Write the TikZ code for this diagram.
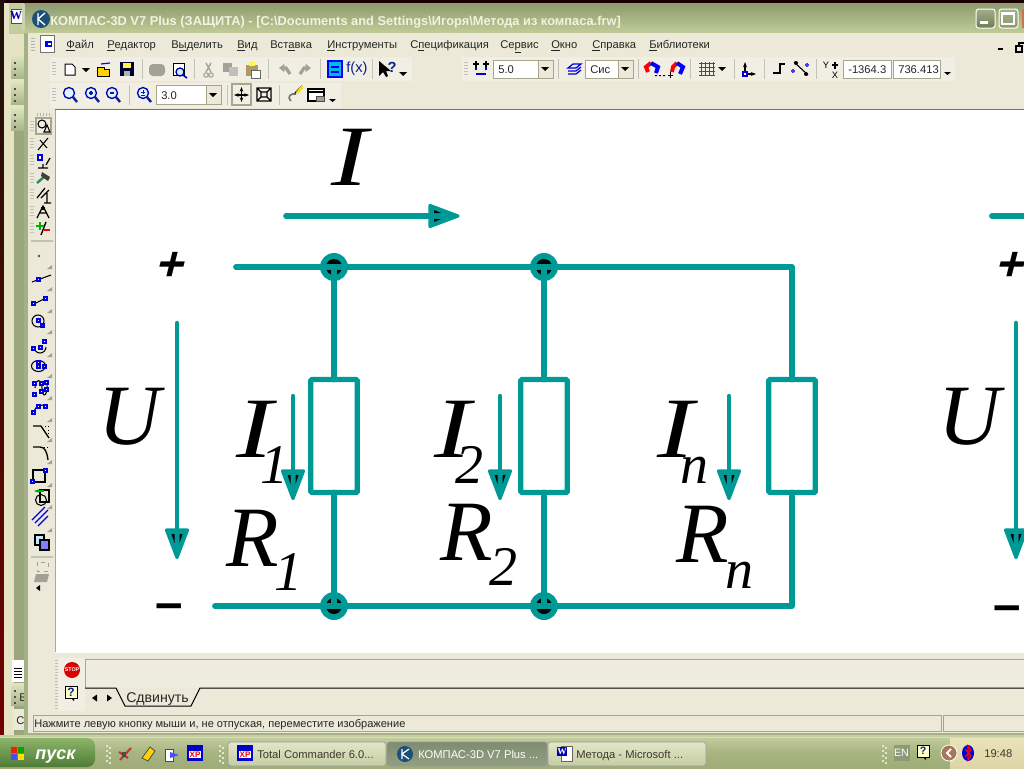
\documentclass[tikz,border=0pt]{standalone}
\usepackage{fontspec}
\usetikzlibrary{arrows.meta}
\setmainfont{Liberation Sans}
\newfontfamily\uifont{Liberation Sans}
\newfontfamily\serfont{Liberation Serif}
\newfontfamily\widefont[FakeStretch=1.28]{Liberation Serif}
\newfontfamily\signfont[FakeSlant=0.25]{Liberation Sans}
\newcommand\psz[1]{\fontsize{#1}{#1}\selectfont}
\newcommand\hexc[1]{\definecolor{#1}{HTML}{#1}}
\hexc{E6E4C4}\hexc{9CA67E}\hexc{C3CDA2}\hexc{E0E6C0}\hexc{A9B68A}\hexc{8C9A6E}\hexc{BFCB96}\hexc{8F9C74}\hexc{CCD3AE}\hexc{1C4F7A}\hexc{F2F2E0}\hexc{A4AF88}\hexc{6E7C55}\hexc{D2724A}\hexc{B09A60}\hexc{00B8E8}\hexc{2E8B57}\hexc{EFECE0}\hexc{FFFFC8}\hexc{C7D0A3}\hexc{9EAC78}\hexc{A8B582}\hexc{D7DDBA}\hexc{8DB46A}\hexc{4E7B35}\hexc{E4E8CC}\hexc{CC3322}\hexc{E1E6C6}\hexc{C5CDA4}\hexc{7E8C70}\hexc{929F83}\hexc{8C9A78}\hexc{EBE3B8}\hexc{DDD5A8}\hexc{A8775A}
\definecolor{panel}{HTML}{ECE9D8}
\definecolor{band}{HTML}{F1EFE4}
\definecolor{teal1}{HTML}{009A96}
\definecolor{frameol}{HTML}{A4B184}
\definecolor{seplin}{HTML}{C4C2B4}
\definecolor{boxlin}{HTML}{A5A78C}
\definecolor{nav}{HTML}{0A1E90}
\definecolor{gry}{HTML}{A3A196}
\tikzset{x=0.75pt,y=-0.75pt,
 wire/.style={draw=teal1,line width=4.3pt,line cap=round,line join=round},
 resistor/.style={draw=teal1,line width=4pt,fill=white,rounded corners=1pt,minimum width=34.9pt,minimum height=84.8pt,inner sep=0pt,outer sep=0pt},
 junction/.style={circle,fill=teal1,minimum size=21pt,inner sep=0pt},
 current/.style={draw=teal1,line width=3.3pt,line cap=round},
 mainarrow/.style={draw=teal1,line width=4.2pt,line cap=round},
 headtip/.style={fill=teal1,draw=teal1,line width=2.4pt,line join=round},
 bigl/.style={font=\serfont\itshape\psz{64.5},anchor=base west,inner sep=0pt,text=black},
 bigi/.style={font=\widefont\itshape\psz{64.5},anchor=base west,inner sep=0pt,text=black},
 subl/.style={font=\serfont\itshape\psz{42},anchor=base west,inner sep=0pt,text=black},
 menu/.style={font=\uifont\psz{8.4},anchor=base west,inner sep=0pt,text=black!85},
 sepv/.style={draw=seplin,line width=0.75pt},
 fieldbox/.style={draw=boxlin,fill=white,line width=0.75pt},
 dropbtn/.style={draw=boxlin,fill=panel,line width=0.75pt},
 taskbtn/.style={draw=black!40,line width=0.5pt,rounded corners=2pt},
 tasktxt/.style={font=\uifont\psz{8.4},anchor=base west,inner sep=0pt,text=black!75!olive},
 ic/.style={line width=0.75pt,draw=black},
 blu/.style={line width=0.9pt,draw=blue!85!black}
}
\newcommand\dnarrow[2]{\fill[black] (#1-4,#2) -- (#1+4,#2) -- (#1,#2+4) -- cycle;}
\begin{document}
\begin{tikzpicture}
\useasboundingbox (0,0) rectangle (1024,768);
\clip (0,0) rectangle (1024,768);
% desktop and back window
\fill[black!90!red] (0,0) rectangle (1024,768);
\shade[top color=black!85!brown,bottom color=red!45!black] (0,0) rectangle (5,740);
\fill[E6E4C4] (4,3) rectangle (24,738);
\fill[9CA67E] (14,110) rectangle (24,738);
\fill[C3CDA2] (9,3) rectangle (24,34);
\shade[top color=E0E6C0,bottom color=A9B68A] (11,55) rectangle (24,78);
\shade[top color=E0E6C0,bottom color=A9B68A] (11,81) rectangle (24,104);
\shade[top color=E0E6C0,bottom color=A9B68A] (11,107) rectangle (24,130);
\fill[white] (12,660) rectangle (24,682);
\foreach \yy in {668,671,674,677}{\draw[black,line width=0.6pt] (14,\yy) -- (22,\yy);}
\shade[top color=E0E6C0,bottom color=A9B68A] (11,683) rectangle (24,705);
\fill[panel] (13,709) rectangle (24,730);
\node[menu] (backb) at (19,701) {В};
\node[menu] (backc) at (16,724) {С};
\foreach \yy in {62,68,74,88,94,100,114,120,126,690,696,702}{\fill[black!70] (14,\yy) rectangle (16,\yy+2);}
% word icon on back window
\draw[fill=white,draw=black!70,line width=.5pt] (11,9) rectangle (24,23);
\node[font=\serfont\bfseries\psz{9},text=blue!70!black,inner sep=0pt] (backw) at (16,16) {W};
% main window
\fill[frameol] (24,3) rectangle (1024,735);
\fill[panel] (28,33) rectangle (1024,733);
\shade[top color=8C9A6E,bottom color=BFCB96] (24,3) rectangle (1024,32);
\fill[8F9C74] (24,3) rectangle (1024,5);
\fill[CCD3AE] (22,4) rectangle (25,30);
% title
\fill[1C4F7A] (41,19) circle (9);
\draw[white,line width=1pt] (38,13) -- (38,25) (45,13) -- (38,19) -- (45,25);
\node[font=\uifont\bfseries\psz{9.63},anchor=base west,inner sep=0pt,text=F2F2E0] (title) at (50,25) {КОМПАС-3D V7 Plus (ЗАЩИТА) - [C:\textbackslash Documents and Settings\textbackslash Игоря\textbackslash Метода из компаса.frw]};
% title buttons
\shade[top color=A4AF88,bottom color=6E7C55,draw=white,line width=.75pt,rounded corners=2pt] (976,9) rectangle (995,28);
\fill[white] (980,21) rectangle (988,24);
\shade[top color=A4AF88,bottom color=8C9A6E,draw=white,line width=.75pt,rounded corners=2pt] (999,9) rectangle (1018,28);
\draw[white,line width=1pt] (1002,13) rectangle (1014,24);
\fill[white] (1002,13) rectangle (1014,15);
\fill[D2724A] (1022,9) rectangle (1024,28);
% menu
\draw[black!55,line width=.6pt,fill=white] (40,35) rectangle (54,52);
\fill[blue] (45,41) rectangle (52,47);
\fill[white] (48,43) rectangle (51,45);
\foreach \yy in {38,41,44,47,50}{\fill[black!30] (31,\yy) rectangle (35,\yy+1);}
\node[menu] (m1) at (66,48) {\underline{Ф}айл};
\node[menu] (m2) at (107,48) {\underline{Р}едактор};
\node[menu] (m3) at (171,48) {В\underline{ы}делить};
\node[menu] (m4) at (237,48) {\underline{В}ид};
\node[menu] (m5) at (270,48) {Вст\underline{а}вка};
\node[menu] (m6) at (327,48) {\underline{И}нструменты};
\node[menu] (m7) at (410,48) {С\underline{п}ецификация};
\node[menu] (m8) at (500,48) {Се\underline{р}вис};
\node[menu] (m9) at (551,48) {\underline{О}кно};
\node[menu] (m10) at (592,48) {\underline{С}правка};
\node[menu] (m11) at (649,48) {\underline{Б}иблиотеки};
\fill[black] (998,48) rectangle (1003,50);
\draw[black,line width=1pt] (1016,46) rectangle (1022,52);
\draw[black,line width=1pt] (1019,46) -- (1019,43) -- (1024,43);
% toolbar bands
\fill[band] (50,57) rectangle (412,81);
\fill[band] (462,57) rectangle (955,81);
\fill[band] (50,83) rectangle (341,108);
\foreach \yy in {62,65,68,71,74}{\fill[black!25] (52,\yy) rectangle (56,\yy+1);\fill[black!25] (464,\yy) rectangle (468,\yy+1);}
\foreach \yy in {88,91,94,97,100}{\fill[black!25] (52,\yy) rectangle (56,\yy+1);}
\foreach \xx in {142,194,268,320,372,558,638,690,734,764,816}{\draw[sepv] (\xx,59) -- (\xx,79);}
\foreach \xx in {129,227,279}{\draw[sepv] (\xx,85) -- (\xx,105);}
% toolbar 1 icons
\draw[ic,fill=white] (65,64) -- (72,64) -- (75,67) -- (75,75) -- (65,75) -- cycle;
\dnarrow{86}{68}
\draw[ic,fill=yellow!70!orange] (97,76) -- (97,67) -- (104,67) -- (104,69) -- (109,69) -- (109,76) -- cycle;
\draw[blue,line width=.9pt] (101,64) -- (110,63);
\fill[black!80!blue] (120,62) rectangle (134,76);
\fill[yellow!70] (123,63) rectangle (131,68);
\fill[black!30] (124,71) rectangle (130,76);
\fill[gry,rounded corners=3pt] (149,64) rectangle (165,76);
\draw[ic,fill=white] (173,63) rectangle (184,75);
\draw[blue!70!black,line width=1pt,fill=cyan!20] (180,72) circle (4);
\draw[blue!70!black,line width=1.2pt] (183,75) -- (187,78);
\draw[gry,line width=1pt] (206,63) -- (211,72) (211,63) -- (206,72);
\draw[gry,line width=.8pt] (206,75) circle (2.2) (211,75) circle (2.2);
\fill[gry] (223,63) rectangle (232,72);\fill[black!25] (229,67) rectangle (238,76);
\fill[B09A60] (246,65) rectangle (258,76);\fill[white,draw=black!60] (251,70) rectangle (260,78);\fill[yellow!70] (249,62) rectangle (255,66);
\draw[gry,line width=2.4pt,-{Triangle[length=4pt,width=6pt]}] (290,74) -- (286,68) -- (279,68);
\draw[gry,line width=2.4pt,-{Triangle[length=4pt,width=6pt]}] (300,74) -- (304,68) -- (311,68);
\fill[00B8E8,draw=blue,line width=1pt] (328,61) rectangle (342,77);
\draw[blue,line width=1pt] (331,67) -- (339,67) (331,72) -- (339,72);
\node[font=\uifont\psz{11},text=nav,inner sep=0pt] (fx) at (357,69) {f(x)};
\fill[black] (379,61) -- (379,76) -- (383,72) -- (386,77) -- (388,76) -- (386,71) -- (391,71) -- cycle;
\node[font=\uifont\bfseries\psz{11},text=nav,inner sep=0pt] (helpq) at (392,67) {?};
\dnarrow{403}{72}
% toolbar 1 right
\draw[blu] (476,62) -- (476,70) (486,62) -- (486,70) (476,74) -- (486,74);
\draw[black,line width=1pt] (473,64) -- (479,64) (476,61) -- (476,67) (483,64) -- (489,64) (486,61) -- (486,67);
\draw[fieldbox] (493,60) rectangle (538,78);
\draw[dropbtn] (538,60) rectangle (553,78);
\node[menu] (f50) at (498,73) {5.0};
\dnarrow{545}{67}
\draw[blu,fill=cyan!15] (568,68) -- (573,64) -- (581,64) -- (576,68) -- cycle;
\draw[blu] (568,71) -- (576,71) -- (581,67) (568,74) -- (576,74) -- (581,70);
\draw[fieldbox] (585,60) rectangle (618,78);
\draw[dropbtn] (618,60) rectangle (633,78);
\node[menu] (fsys) at (590,73) {Сис};
\dnarrow{625}{67}
\draw[red,line width=3pt] (648,72) -- (646,67) -- (651,63);
\draw[blue,line width=3pt] (651,63) -- (658,67) -- (656,73);
\fill[black] (655,75) rectangle (657,76) (659,75) rectangle (661,76) (663,75) rectangle (665,76);
\draw[red,line width=3pt] (672,72) -- (673,67) -- (677,63);
\draw[blue,line width=3pt] (677,63) -- (683,67) -- (680,74);
\draw[black,line width=.7pt] (668,75) -- (673,75) (670.5,72) -- (670.5,78);
\foreach \xx in {701,705,709,713}{\draw[black!70,line width=.6pt] (\xx,62) -- (\xx,76);}
\foreach \yy in {63,67,71,75}{\draw[black!70,line width=.6pt] (699,\yy) -- (715,\yy);}
\dnarrow{722}{67}
\draw[black,line width=.9pt,{Stealth[length=4pt]}-{Stealth[length=4pt]}] (745,62) -- (745,74) -- (756,74);
\draw[blu,fill=white] (743,72) rectangle (747,76);
\draw[black,line width=1pt] (773,73) -- (780,73) -- (780,64) -- (785,64);
\draw[black,line width=.8pt] (794,62) -- (808,75);
\fill[black] (796,63) circle (2) (806,74) circle (2);
\draw[blue,line width=.6pt] (793,71) circle (1.5) (807,65) circle (1.5);
\node[font=\uifont\psz{7},inner sep=0pt] (yl) at (826,65) {Y};
\node[font=\uifont\psz{7},inner sep=0pt] (xl) at (835,75) {X};
\draw[black,line width=.8pt] (832,65) -- (838,65) (835,62) -- (835,69);
\draw[fieldbox] (843,60) rectangle (891,78);
\draw[fieldbox] (893,60) rectangle (940,78);
\node[menu] (cx) at (848,73) {-1364.3};
\node[menu] (cy) at (898,73) {736.413};
\fill[black] (944,72) -- (951,72) -- (947.5,75) -- cycle;
% toolbar 2
\foreach \xx/\ss in {70/0,92/1,113/2}{
 \draw[blue!70!black,line width=1pt,fill=cyan!12] (\xx-1,93) circle (5.5);
 \draw[nav,line width=1.8pt] (\xx+3,97) -- (\xx+7,102);
}
\draw[nav,line width=.8pt] (89,93) -- (93,93) (91,91) -- (91,95);
\draw[nav,line width=.8pt] (110,93) -- (114,93);
\draw[blue!70!black,line width=1pt,fill=cyan!12] (143,93) circle (5.5);
\draw[nav,line width=1.8pt] (147,97) -- (151,102);
\draw[nav,line width=.7pt] (141,92) -- (145,92) (143,90) -- (143,94) (141,95) -- (145,95);
\draw[fieldbox] (156,85) rectangle (206,104);
\draw[dropbtn] (206,85) rectangle (221,104);
\node[menu] (f30) at (161,99) {3.0};
\dnarrow{213}{93}
\draw[boxlin,fill=band,line width=.9pt] (232,84) rectangle (251,105);
\draw[black,line width=1pt,{Stealth[length=3.5pt]}-{Stealth[length=3.5pt]}] (234,95) -- (249,95);
\draw[black,line width=1pt,{Stealth[length=3.5pt]}-{Stealth[length=3.5pt]}] (241.5,87) -- (241.5,102);
\draw[black,line width=.9pt] (257,88) rectangle (271,101) (261,92) rectangle (267,97) (257,88) -- (261,92) (271,88) -- (267,92) (257,101) -- (261,97) (271,101) -- (267,97);
\draw[gry!70!black,line width=1.2pt] (291,101) .. controls (286,96) and (292,93) .. (296,94);
\draw[black,line width=.9pt] (295,93) -- (302,86);
\fill[yellow!80!orange] (296,92) -- (302,85) -- (303,88) -- (298,94) -- cycle;
\draw[black,line width=.9pt,fill=white] (308,89) rectangle (324,101);
\draw[black,line width=.8pt] (308,92) -- (324,92);\draw[black!70,fill=gry] (316,96) rectangle (324,101);
\fill[black] (329,99) -- (336,99) -- (332.5,102) -- cycle;
% left tool panel
\foreach \yy in {126,143,160,178,194,211,228}{\foreach \d in {0,3,6,9}{\fill[black!25] (30,\yy-5+\d) rectangle (34,\yy-4+\d);}}
\foreach \xx in {37,40,43,46,49}{\fill[black!30] (\xx,113) rectangle (\xx+1,116);}
\draw[boxlin,fill=band,line width=1pt] (36,118) rectangle (51,134);
\draw[black,line width=.8pt] (42,124) circle (4);
\draw[black,line width=.8pt] (44,132) -- (47,125) -- (50,132) -- cycle;
\draw[black,line width=.8pt] (38,150) -- (48,138) (40,140) -- (47,148);
\draw[black,line width=.9pt] (38,168) -- (48,168) (43,164) -- (43,168) (46,165) -- (50,158);
\draw[blu,fill=white] (38,155) rectangle (42,160);
\draw[2E8B57,line width=1.8pt] (37,183) -- (45,176);
\fill[black!75] (42,172) -- (50,177) -- (48,181) -- (41,176) -- cycle;
\draw[black,line width=.9pt] (37,198) -- (45,188) (41,198) -- (49,190) (44,203) -- (51,203) (47,193) -- (47,203);
\draw[black,line width=.9pt] (37,218) -- (43,206) -- (49,218) (39,213) -- (47,213);
\fill[black] (41,207) rectangle (45,210);
\draw[black,line width=1pt] (41,235) -- (46,222);
\draw[green!70!black,line width=2pt] (36,226) -- (44,226) (40,222) -- (40,230);
\draw[red,line width=1.6pt] (44,230) -- (50,230);
\draw[seplin,line width=1pt] (31,241) -- (53,241);
\fill[black!70] (39,256) circle (1.3);
\foreach \yy in {265,287,309,330,353,374,396,418,438,460,483,505,528}{\fill[gry] (52,\yy) -- (47,\yy+4) -- (52,\yy+4) -- cycle;}
\draw[black,line width=.8pt] (32,282) -- (51,275);\draw[blu,fill=white] (37,278) rectangle (40,281);
\draw[black,line width=.8pt] (34,304) -- (44,299);\draw[blu,fill=white] (32,302) rectangle (35,305) (44,297) rectangle (47,300);
\draw[black,line width=.8pt] (38,321) circle (6);\draw[blu] (37,319) rectangle (40,322) (41,324) rectangle (44,327);
\draw[black,line width=.8pt] (34,347) arc (180:0:6);\draw[blu,fill=white] (32,347) rectangle (35,350) (39,346) rectangle (42,349) (43,340) rectangle (46,343);
\draw[black,line width=.8pt] (38.5,366) ellipse (7 and 5.5);\draw[blu] (37,361) rectangle (40,364) (37,365) rectangle (40,368);\draw[blu] (43,365) rectangle (46,368);
\draw[black,line width=.8pt] (35,388) .. controls (35,378) and (42,378) .. (42,388) .. controls (42,398) and (48,398) .. (47,382);
\draw[blu,fill=white] (33,382) rectangle (36,385) (33,393) rectangle (36,396) (40,382) rectangle (43,385) (40,390) rectangle (43,393) (45,381) rectangle (48,384) (45,388) rectangle (48,391);
\draw[black,line width=.8pt] (34,413) .. controls (35,405) and (42,403) .. (46,407);
\draw[blu,fill=white] (32,411) rectangle (35,414) (37,405) rectangle (40,408) (44,405) rectangle (47,408);
\draw[black,line width=1pt] (33,426) -- (41,426) -- (49,438);
\draw[black,dotted,line width=.7pt] (41,426) -- (48,426) -- (48,436);
\draw[black,line width=1pt] (33,447) -- (40,447) .. controls (45,447) and (47,452) .. (48,460);
\draw[black,dotted,line width=.7pt] (40,447) -- (48,447);
\draw[black,line width=.9pt] (33,470) rectangle (45,482);
\draw[blu,fill=white] (31,480) rectangle (34,483) (44,469) rectangle (47,472);
\draw[black,line width=.8pt] (40,490) rectangle (49,502);
\draw[black,line width=.8pt] (41,500) circle (5.5);
\draw[green!70!black,line width=1.4pt,-{Stealth[length=3.5pt]}] (44,491) -- (34,491);
\draw[blu] (32,520) -- (45,507) (35,523) -- (48,510) (38,526) -- (48,516);
\draw[black,line width=1pt,fill=cyan!25] (35,535) rectangle (44,545);
\draw[black,line width=1pt,fill=blue!50] (40,540) rectangle (49,550);
\draw[seplin,line width=1pt] (31,557) -- (53,557);
\draw[gry,line width=.7pt,dashed] (37,562) rectangle (48,571);
\fill[gry] (36,574) -- (49,574) -- (47,582) -- (34,582) -- cycle;
\fill[black] (36,588) -- (40,585) -- (40,591) -- cycle;
% canvas
\fill[white] (55,110) rectangle (1024,652);
\draw[black!55,line width=.75pt] (55,109) -- (1024,109);
\draw[black!35,line width=.75pt] (55,110) -- (55,652);
% circuit
\node[junction] (j1t) at (334,267) {};
\node[junction] (j2t) at (544,267) {};
\node[junction] (j1b) at (334,606) {};
\node[junction] (j2b) at (544,606) {};
\fill[black] (j1t) circle (8) (j2t) circle (8) (j1b) circle (8) (j2b) circle (8);
\node[resistor] (r1) at (334,436) {};
\node[resistor] (r2) at (544,436) {};
\node[resistor] (r3) at (792,436) {};
\coordinate (tl) at (236,267);
\coordinate (tr) at (792,267);
\coordinate (bl) at (215,606);
\coordinate (br) at (792,606);
\draw[wire] (tl) -- (j1t.center) -- (j2t.center) -- (tr) -- (r3.north);
\draw[wire] (r3.south) -- (br) -- (j2b.center) -- (j1b.center) -- (bl);
\draw[wire] (j1t.center) -- (r1.north);
\draw[wire] (j2t.center) -- (r2.north);
\draw[wire] (r1.south) -- (j1b.center);
\draw[wire] (r2.south) -- (j2b.center);
% arrows
\coordinate (ia) at (286,216); \coordinate (ib) at (440,216);
\coordinate (ua) at (177,323); \coordinate (ub) at (177,535);
\coordinate (va) at (1016,323); \coordinate (vb) at (1016,535);
\coordinate (i1a) at (293,396); \coordinate (i1b) at (293,475);
\coordinate (i2a) at (500,396); \coordinate (i2b) at (500,475);
\coordinate (ina) at (729,396); \coordinate (inb) at (729,475);
\coordinate (ic) at (992,216); \coordinate (id) at (1030,216);
\draw[mainarrow] (ia) -- (ib);
\draw[wire] (ic) -- (id);
\draw[current] (ua) -- (ub);
\draw[current] (va) -- (vb);
\draw[current] (i1a) -- (i1b);
\draw[current] (i2a) -- (i2b);
\draw[current] (ina) -- (inb);
% arrowheads
\foreach \xx/\yy in {177/530,1016/530,293/471,500/471,729/471}{
 \draw[headtip] (\xx-10.5,\yy) -- (\xx+10.5,\yy) -- (\xx,\yy+27.5) -- cycle;
 \fill[black] (\xx-5.5,\yy+4) -- (\xx-2.5,\yy+4) -- (\xx-2.5,\yy+13) -- cycle;
 \fill[black] (\xx+5.5,\yy+4) -- (\xx+2.5,\yy+4) -- (\xx+2.5,\yy+13) -- cycle;
}
\draw[headtip] (430,205.5) -- (430,226.5) -- (458,216) -- cycle;
\fill[black] (434,210) -- (441,213) -- (434,213) -- cycle;
\fill[black] (434,222) -- (441,219) -- (434,219) -- cycle;
% circuit labels
\node[bigi] (li) at (331,185) {I};
\node[bigl] (lu) at (98,444) {U};
\node[bigl] (lv) at (938,444) {U};
\node[bigl,font=\signfont\bfseries\psz{36}] (lplus) at (154,280) {+};
\node[bigl,font=\signfont\bfseries\psz{36}] (lplus2) at (994,280) {+};
\node[bigl,font=\uifont\bfseries\psz{37}] (lminus) at (155,619) {–};
\node[bigl,font=\uifont\bfseries\psz{37}] (lminus2) at (993,621) {–};
\node[bigi] (li1) at (236,457) {I};
\node[subl] (ls1) at (260,483) {1};
\node[bigl] (lr1) at (226,566) {R};
\node[subl] (ls2) at (274,590) {1};
\node[bigi] (li2) at (434,457) {I};
\node[subl] (ls3) at (455,483) {2};
\node[bigl] (lr2) at (440,560) {R};
\node[subl] (ls4) at (489,585) {2};
\node[bigi] (lin) at (657,457) {I};
\node[subl] (ls5) at (680,483) {n};
\node[bigl] (lrn) at (676,562) {R};
\node[subl] (ls6) at (725,588) {n};
% bottom panel
\fill[panel] (55,652) rectangle (1024,733);
\draw[white,line width=.75pt] (55,652) -- (1024,652);
\fill[EFECE0] (85,659) rectangle (1024,688);
\draw[boxlin,line width=.75pt] (85,688) -- (85,659) -- (1024,659);
\fill[band] (58,658) rectangle (85,711);
\foreach \yy in {660,663,666,669,672,675,678,681,684,687,690,693,696,699,702,705,708}{\fill[black!25] (55,\yy) rectangle (58,\yy+1);}
\fill[red!85!black] (72,670) circle (8);
\node[font=\uifont\bfseries\psz{4},text=white,inner sep=0pt] (stop) at (72,670) {STOP};
\draw[black,fill=FFFFC8,line width=.75pt] (65,686) rectangle (77,698);
\fill[black] (71,698) -- (74,698) -- (74,701) -- cycle;
\node[font=\uifont\bfseries\psz{9},text=nav,inner sep=0pt] (qm) at (71,692) {?};
\fill[black] (92,698) -- (97,694.5) -- (97,701.5) -- cycle;
\fill[black] (112,698) -- (107,694.5) -- (107,701.5) -- cycle;
\draw[black,line width=.75pt] (85,688) -- (116,688) -- (125,706) -- (191,706) -- (200,688) -- (1024,688);
\node[font=\uifont\psz{10.6},anchor=base west,inner sep=0pt,text=black!85] (tab) at (126,702) {Сдвинуть};
\draw[boxlin,line width=.75pt] (33,715) rectangle (941,731);
\draw[boxlin,line width=.75pt] (1024,715) -- (943,715) -- (943,731) -- (1024,731);
\node[menu,font=\uifont\psz{8.3}] (status) at (34,727) {Нажмите левую кнопку мыши и, не отпуская, переместите изображение};
% taskbar
\shade[top color=C7D0A3,bottom color=9EAC78,middle color=A8B582] (0,735) rectangle (1024,768);
\fill[D7DDBA] (0,737) rectangle (1024,738);
\shade[top color=8DB46A,bottom color=4E7B35,rounded corners=6pt] (-8,738) rectangle (95,767);
\fill[red!80!orange] (11,747) rectangle (17,753);
\fill[green!65!black] (18,747) rectangle (24,753);
\fill[blue!70] (11,754) rectangle (17,760);
\fill[yellow!85!orange] (18,754) rectangle (24,760);
\node[font=\uifont\bfseries\itshape\psz{13.5},anchor=base west,inner sep=0pt,text=white] (start) at (35,759) {пуск};
\foreach \xx in {106,219}{\foreach \yy in {745,750,755,760}{\fill[E4E8CC] (\xx,\yy) rectangle (\xx+2,\yy+2);\fill[E4E8CC] (\xx+3,\yy+2) rectangle (\xx+5,\yy+4);}}
\draw[CC3322,line width=1.5pt] (120,760) -- (131,748) (119,752) -- (128,758);
\fill[black!70] (122,752) rectangle (126,757);
\draw[black!70,fill=yellow!70!orange,line width=.6pt] (142,758) -- (150,747) -- (155,751) -- (148,761) -- cycle;
\draw[black!70,fill=white,line width=.6pt] (165,749) rectangle (173,761);
\fill[blue!70] (170,752) -- (179,755) -- (170,758) -- cycle;
\fill[blue!80!black] (187,745) rectangle (203,761);
\fill[white] (189,751) rectangle (201,758);
\node[font=\uifont\bfseries\psz{6},text=red,inner sep=0pt] (xp1) at (195,755) {XP};
\shade[top color=E1E6C6,bottom color=C5CDA4,taskbtn] (228,742) rectangle (386,766);
\shade[top color=7E8C70,bottom color=929F83,taskbtn] (387,742) rectangle (547,766);
\shade[top color=E1E6C6,bottom color=C5CDA4,taskbtn] (548,742) rectangle (706,766);
\fill[blue!80!black] (237,745) rectangle (253,761);
\fill[white] (239,751) rectangle (251,758);
\node[font=\uifont\bfseries\psz{6},text=red,inner sep=0pt] (xp2) at (245,755) {XP};
\node[tasktxt] (t1) at (257,758) {Total Commander 6.0...};
\fill[1C4F7A] (405,754) circle (8);
\draw[white,line width=.9pt] (402,749) -- (402,759) (409,749) -- (402,754) -- (409,759);
\node[tasktxt,text=white] (t2) at (418,758) {КОМПАС-3D V7 Plus ...};
\draw[black!60,fill=white,line width=.5pt] (561,746) rectangle (572,761);
\fill[blue!70!black] (557,747) rectangle (567,756);
\node[font=\serfont\bfseries\psz{7},text=white,inner sep=0pt] (wd) at (562,751.5) {W};
\node[tasktxt] (t3) at (576,758) {Метода - Microsoft ...};
\foreach \yy in {745,750,755,760}{\fill[E4E8CC] (882,\yy) rectangle (884,\yy+2);\fill[E4E8CC] (885,\yy+2) rectangle (887,\yy+4);}
\fill[8C9A78] (894,745) rectangle (910,761);
\node[font=\uifont\psz{8},text=white,inner sep=0pt] (en) at (901.5,753) {EN};
\draw[black,fill=FFFFC8,line width=.75pt] (917,745) rectangle (929,757);
\fill[black] (923,757) -- (926,757) -- (926,760) -- cycle;
\node[font=\uifont\bfseries\psz{8},text=nav,inner sep=0pt] (qm2) at (923,751) {?};
\shade[top color=EBE3B8,bottom color=DDD5A8] (950,738) rectangle (1024,768);
\fill[A8775A,draw=white,line width=.6pt] (949,753) circle (8);
\draw[white,line width=1.4pt] (951,749) -- (947,753) -- (951,757);
\fill[blue!85!black] (968,753) ellipse (6 and 8);
\draw[red,line width=.9pt] (965,749) -- (971,756) -- (968,760) -- (968,746) -- (971,750) -- (965,757);
\node[font=\uifont\psz{8.4},anchor=base west,inner sep=0pt,text=black!75!olive] (clock) at (984,757) {19:48};
\end{tikzpicture}
\end{document}
